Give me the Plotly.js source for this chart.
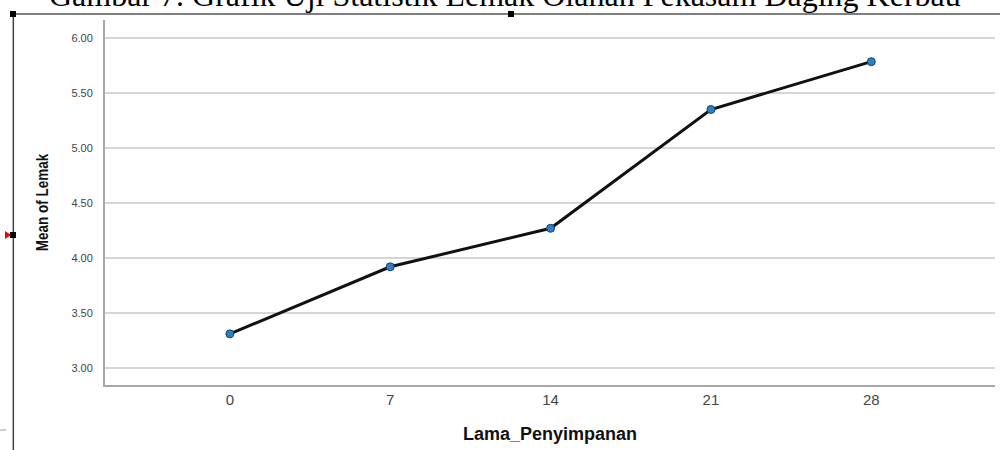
<!DOCTYPE html>
<html><head><meta charset="utf-8">
<script src="https://cdn.plot.ly/plotly-3.0.1.min.js"></script>
<style>html,body{margin:0;padding:0;background:#fff}#chart{width:1000px;height:450px}</style>
</head><body><div id="chart"></div>
<script>
var categories = ["0", "7", "14", "21", "28"];
var days = [0, 7, 14, 21, 28];
var meanLemak = [3.31, 3.92, 4.27, 5.35, 5.785];
var yTickVals = [3.0, 3.5, 4.0, 4.5, 5.0, 5.5, 6.0];
var yTickText = ["3.00", "3.50", "4.00", "4.50", "5.00", "5.50", "6.00"];
var captionText = "Gambar 7. Grafik Uji Statistik Lemak Olahan Pekasam Daging Kerbau";

var trace = {
  x: days, y: meanLemak, type: 'scatter', mode: 'lines+markers',
  line: {color: '#111', width: 3},
  marker: {color: '#2f7fc7', size: 8, line: {color: '#1a3f66', width: 1}},
  hoverinfo: 'x+y'
};

var layout = {
  width: 1000, height: 450,
  margin: {l: 105, r: 5, t: 20, b: 65},
  paper_bgcolor: '#fff', plot_bgcolor: '#fff',
  showlegend: false,
  xaxis: {
    range: [-5.45, 33.4], tickvals: days, ticktext: categories,
    showgrid: false, zeroline: false, showline: true, linecolor: '#a8a8a8', linewidth: 2,
    ticks: '', tickfont: {family: 'Liberation Sans, Arial', size: 15, color: '#444'},
    title: {text: '<b>Lama_Penyimpanan</b>', font: {family: 'Liberation Sans, Arial', size: 18, color: '#111'}, standoff: 20}
  },
  yaxis: {
    range: [2.845, 6.164], tickvals: yTickVals, ticktext: yTickText,
    showgrid: true, gridcolor: '#d6d6d6', gridwidth: 1.5, zeroline: false,
    showline: true, linecolor: '#a8a8a8', linewidth: 2,
    ticks: '', ticklabelstandoff: 8,
    tickfont: {family: 'Liberation Sans, Arial', size: 11, color: '#444'},
    title: {text: '<b>Mean of Lemak</b>', font: {family: 'Liberation Sans, Arial', size: 17, color: '#111'}, standoff: 18}
  },
  annotations: [{
    text: captionText, xref: 'paper', yref: 'paper', x: 0.449, y: 1, xanchor: 'center', yanchor: 'bottom',
    yshift: 5,
    showarrow: false, font: {family: 'Liberation Serif, Times New Roman', size: 32, color: '#000'}
  }],
  shapes: [
    {type: 'line', xref: 'paper', yref: 'paper', x0: -0.103, x1: 1.006, y0: 1.0164, y1: 1.0164, line: {color: '#555', width: 1.5}},
    {type: 'line', xref: 'paper', yref: 'paper', x0: -0.103, x1: -0.103, y0: 1.0164, y1: -0.2, line: {color: '#444', width: 1.5}},
    {type: 'line', xref: 'paper', yref: 'paper', x0: -0.118, x1: -0.111, y0: -0.1233, y1: -0.1233, line: {color: '#999', width: 1}}
  ]
};

Plotly.newPlot('chart', [trace], layout, {displayModeBar: false, staticPlot: true}).then(function(){
  var svgs = document.querySelectorAll('#chart .main-svg');
  var svg = svgs[svgs.length - 1];
  var ns = 'http://www.w3.org/2000/svg';
  function sq(x, y, c){ var r = document.createElementNS(ns, 'rect'); r.setAttribute('x', x-3); r.setAttribute('y', y-3); r.setAttribute('width', 6); r.setAttribute('height', 6); r.setAttribute('fill', c); svg.appendChild(r); }
  sq(13, 14, '#000'); sq(511, 14, '#000'); sq(13, 235, '#000');
  var p = document.createElementNS(ns, 'polygon'); p.setAttribute('points', '5,231 11,235 5,239'); p.setAttribute('fill', '#e00'); svg.appendChild(p);
  // condense the y title along its reading direction (narrow font look)
  var yt = document.querySelector('#chart .ytitle');
  if (yt) {
    var bb = yt.getBoundingClientRect();
    var cx = bb.left + bb.width / 2, cy = bb.top + bb.height / 2;
    var s = 98 / bb.height;
    var orig = yt.getAttribute('transform') || '';
    var g = document.createElementNS(ns, 'g');
    yt.parentNode.insertBefore(g, yt);
    g.appendChild(yt);
    g.setAttribute('transform', 'translate(' + cx + ',' + cy + ') scale(1,' + s + ') translate(' + (-cx) + ',' + (-cy) + ')');
  }
});
</script></body></html>
